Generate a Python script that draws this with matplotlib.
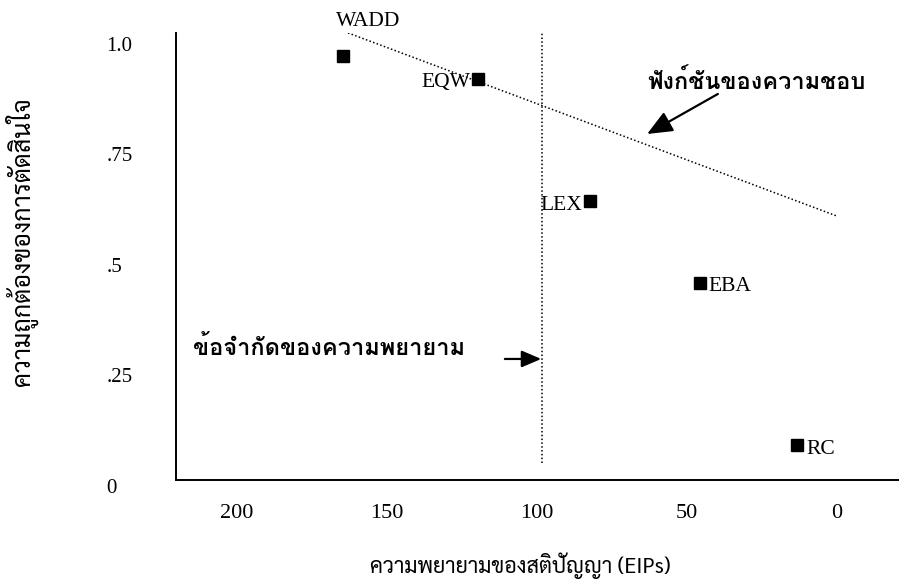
import numpy as np
import matplotlib
matplotlib.use('Agg')
import matplotlib.pyplot as plt
from matplotlib import font_manager
from matplotlib.ft2font import FT2Font

# strategies: effort (EIPs) vs accuracy
strategies = ['WADD', 'EQW', 'LEX', 'EBA', 'RC']
effort = [164.8, 119.7, 82.3, 45.7, 13.3]
accuracy = [0.978, 0.926, 0.650, 0.465, 0.099]

# preference function (dotted line) and effort limit
pref_x = [163.0, 0.0]
pref_y = [1.03, 0.616]
limit_x = 98.3
limit_y = [0.057, 1.03]

xtick_vals = [200, 150, 100, 50, 0]
xtick_labels = ['200', '150', '100', '50', '0']
ytick_vals = [1.0, 0.75, 0.5, 0.25, 0.0]
ytick_labels = ['1.0', '.75', '.5', '.25', '0']

xlabel = 'ความพยายามของสติปัญญา (EIPs)'
ylabel = 'ความถูกต้องของการตัดสินใจ'
pref_text = 'ฟังก์ชันของความชอบ'
limit_text = 'ข้อจำกัดของความพยายาม'


# find fonts with thai glyphs
def thai_fonts():
    names = []
    for f in font_manager.fontManager.ttflist:
        try:
            if 0x0E01 in FT2Font(f.fname).get_charmap():
                if f.name not in names:
                    names.append(f.name)
        except Exception:
            pass
    return names


def pick(found, prefs):
    for p in prefs:
        if p in found:
            return p
    return found[0] if found else 'DejaVu Sans'


found = thai_fonts()
bold_font = pick(found, ['Tahoma', 'Loma', 'Garuda', 'Noto Sans Thai', 'Waree', 'Umpush'])
label_font = pick(found, ['Laksaman', 'TH Sarabun New', 'Sarabun', 'Norasi', 'Kinnari',
                          'Noto Serif Thai', 'Garuda', 'Loma'])
serif = 'Liberation Serif'

fig = plt.figure(figsize=(8.99, 5.87), dpi=100)
ax = fig.add_axes([176 / 899, 107 / 587, 723 / 899, 447 / 587])
ax.set_xlim(220.33, -20.67)
ax.set_ylim(0.0194, 1.0298)
for s in ['top', 'right']:
    ax.spines[s].set_visible(False)
for s in ['left', 'bottom']:
    ax.spines[s].set_linewidth(1.4)

ax.set_xticks(xtick_vals)
ax.set_xticklabels(xtick_labels, fontfamily=serif, fontsize=16)
ax.tick_params(axis='x', length=0, pad=17)
ax.set_yticks([])
for v, t in zip(ytick_vals, ytick_labels):
    ax.text(-0.096, v, t, transform=ax.get_yaxis_transform(), ha='left', va='center',
            fontfamily=serif, fontsize=15, clip_on=False)

ax.plot(pref_x, pref_y, color='black', lw=1.1, linestyle=(0, (1, 1.5)))
ax.plot([limit_x, limit_x], limit_y, color='black', lw=1.1, linestyle=(0, (1, 1.5)))

ax.plot(effort, accuracy, 's', color='black', markersize=8.6, clip_on=False)

offsets = [(18.4, 24.5, 'center'), (-5.8, -2.9, 'right'), (-5.8, -2.9, 'right'),
           (6.5, -2.9, 'left'), (6.5, -3.6, 'left')]
for name, x, y, (dx, dy, ha) in zip(strategies, effort, accuracy, offsets):
    ax.annotate(name, (x, y), xytext=(dx, dy), textcoords='offset points',
                ha=ha, va='center', fontfamily=serif, fontsize=15.5)

ax.text(26.7, 0.919, pref_text, ha='center', va='center', fontfamily=bold_font,
        fontweight='bold', fontsize=17)
ax.annotate('', xy=(63.3, 0.8015), xytext=(39.7, 0.892),
            arrowprops=dict(arrowstyle='-|>,head_length=0.7,head_width=0.3',
                            color='black', lw=1.6, mutation_scale=22,
                            shrinkA=0, shrinkB=0))

ax.text(169.3, 0.318, limit_text, ha='center', va='center', fontfamily=bold_font,
        fontweight='bold', fontsize=17)
ax.annotate('', xy=(98.6, 0.293), xytext=(110.7, 0.293),
            arrowprops=dict(arrowstyle='-|>,head_length=0.7,head_width=0.3',
                            color='black', lw=1.6, mutation_scale=17,
                            shrinkA=0, shrinkB=0))

fig.text(21 / 899, 1 - 242 / 587, ylabel, rotation=90, ha='center', va='center',
         fontfamily=label_font, fontsize=18)
fig.text(370 / 899, 21 / 587, xlabel, ha='left', va='center',
         fontfamily=label_font, fontsize=15.5)

fig.savefig('out.png', dpi=100)
